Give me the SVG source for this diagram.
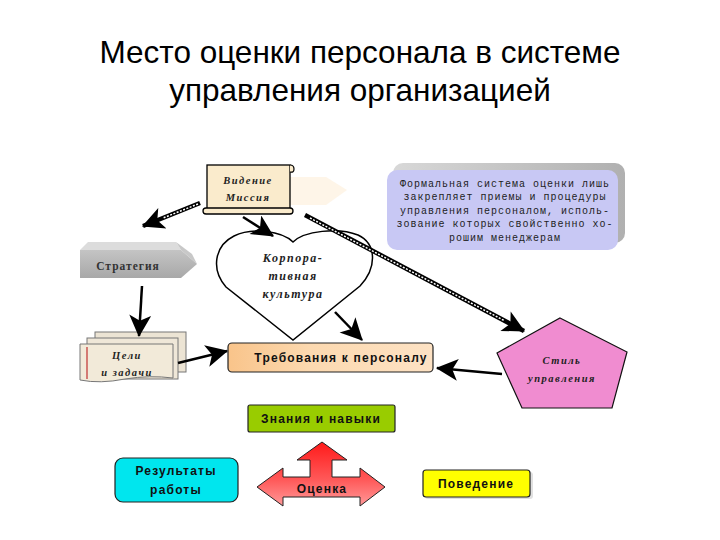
<svg xmlns="http://www.w3.org/2000/svg" width="720" height="540" viewBox="0 0 720 540">
<defs>
<style>
.title{font-family:"Liberation Sans",Arial,sans-serif;font-size:31.5px;fill:#000;text-anchor:middle}
.ital{font-family:"Liberation Serif","Times New Roman",serif;font-style:italic;font-weight:bold;font-size:10.5px;fill:#222;text-anchor:middle;letter-spacing:1.5px}
.big{font-size:12px}
.sans{font-family:"Liberation Sans",Arial,sans-serif;font-weight:bold;font-size:12px;fill:#111;text-anchor:middle;letter-spacing:1.2px}
.mono{font-family:"Liberation Mono","Courier New",monospace;font-size:10px;fill:#222;text-anchor:middle;letter-spacing:1px}
.edge{stroke:#000;stroke-width:2.5;fill:none;marker-end:url(#ah)}
.dbl{stroke:#000;stroke-width:4.5;fill:none;marker-end:url(#ah)}
.inner{stroke:#fff;stroke-width:1.5;fill:none;stroke-dasharray:2 1.5}
.box{stroke:#222;stroke-width:1.2}
</style>
<marker id="ah" viewBox="0 0 20 20" refX="19" refY="10" markerWidth="24" markerHeight="22" markerUnits="userSpaceOnUse" orient="auto">
<path d="M0,0 L20,10 L0,20 L5,10 z" fill="#000"/>
</marker>
<linearGradient id="gStrat" x1="0" y1="0" x2="0" y2="1">
<stop offset="0" stop-color="#c4c4c4"/><stop offset="1" stop-color="#a8a8a8"/>
</linearGradient>
<linearGradient id="gReq" x1="0" y1="0" x2="1" y2="0">
<stop offset="0" stop-color="#f9c48a"/><stop offset="0.4" stop-color="#fcd9b0"/><stop offset="1" stop-color="#fde2c4"/>
</linearGradient>
<linearGradient id="gRed" x1="0" y1="0" x2="0" y2="1">
<stop offset="0" stop-color="#ff1a1a"/><stop offset="0.6" stop-color="#ff5a5a"/><stop offset="1" stop-color="#ff9a9a"/>
</linearGradient>
<linearGradient id="gShadow" x1="0" y1="0" x2="1" y2="0">
<stop offset="0" stop-color="#d8d8d8"/><stop offset="1" stop-color="#b0b0b0"/>
</linearGradient>
</defs>
<rect width="720" height="540" fill="#fff"/>

<text class="title" x="360" y="63">Место оценки персонала в системе</text>
<text class="title" x="360" y="101">управления организацией</text>

<!-- faint shadow shape behind the scroll -->
<polygon points="288,177 326,177 347,190 326,205 288,205" fill="#fef5e8"/>

<g id="info">
<rect x="393" y="163" width="232" height="80" rx="10" fill="url(#gShadow)"/>
<rect x="387" y="170" width="231" height="80" rx="10" fill="#c8c8f4"/>
<text class="mono" x="505" y="187">Формальная система оценки лишь</text>
<text class="mono" x="505" y="200">закрепляет приемы и процедуры</text>
<text class="mono" x="505" y="214">управления персоналом, исполь-</text>
<text class="mono" x="505" y="227">зование которых свойственно хо-</text>
<text class="mono" x="505" y="241">рошим менеджерам</text>
</g>

<g id="vision">
<rect x="207" y="165" width="83" height="45" fill="#faebcc" stroke="#000" stroke-width="1.3"/>
<path d="M290,165 q4,0 4,4 q0,4 -4,3" fill="#faebcc" stroke="#000" stroke-width="1.2"/>
<rect x="203" y="208" width="90" height="6" rx="3" fill="#faebcc" stroke="#000" stroke-width="1.3"/>
<text class="ital" x="248" y="184">Видение</text>
<text class="ital" x="248" y="201">Миссия</text>
</g>

<g id="strategy">
<polygon points="80,250 88,242 176,242 181,250" fill="#dcdcdc"/>
<polygon points="181,250 176,242 192,254 197,264" fill="#c8c8c8"/>
<polygon points="80,250 181,250 197,264 181,278 80,278" fill="url(#gStrat)"/>
<text x="128" y="270" font-family="Liberation Serif,serif" font-weight="bold" font-size="11.5" fill="#333" text-anchor="middle" letter-spacing="1">Стратегия</text>
</g>

<g id="culture">
<path d="M293,242 C282,231 252,227 234,236 C214,246 211,270 226,287 L293,340 L360,286 C377,268 377,244 358,235 C338,227 304,231 293,242 Z" fill="#fff" stroke="#000" stroke-width="1.5"/>
<text class="ital big" x="293" y="262">Корпора-</text>
<text class="ital big" x="293" y="280">тивная</text>
<text class="ital big" x="293" y="298">культура</text>
</g>

<g id="goals">
<rect x="95" y="332" width="91" height="40" fill="#ece4d4" stroke="#777" stroke-width="1"/>
<rect x="87" y="338" width="91" height="41" fill="#efe7d8" stroke="#777" stroke-width="1"/>
<path d="M80,344 L173,344 L173,378 Q150,375 125,379 Q100,384 80,380 Z" fill="#f2ead9" stroke="#777" stroke-width="1"/>
<line x1="87" y1="347" x2="87" y2="379" stroke="#c03030" stroke-width="1.2"/>
<text class="ital" x="127" y="359">Цели</text>
<text class="ital" x="127" y="376">и задачи</text>
</g>

<g id="requirements">
<rect x="228" y="343" width="205" height="29" rx="4" fill="url(#gReq)" class="box"/>
<text class="sans" x="341" y="362">Требования к персоналу</text>
</g>

<g id="style">
<polygon points="560,318 627,352 612,408 522,408 497,353" fill="#f08cd0" stroke="#111" stroke-width="1.2"/>
<text class="ital" x="562" y="364">Стиль</text>
<text class="ital" x="562" y="382">управления</text>
</g>

<g id="knowledge">
<rect x="248" y="405" width="147" height="27" rx="2" fill="#99cc00" class="box"/>
<text class="sans" x="321" y="423">Знания и навыки</text>
</g>

<g id="results">
<rect x="115" y="458" width="123" height="44" rx="8" fill="#00e6ee" class="box"/>
<text class="sans" x="176" y="475">Результаты</text>
<text class="sans" x="176" y="494">работы</text>
</g>

<g id="assessment">
<path d="M322,442 L347,460 L332,460 L332,477 L360,477 L360,468 L385,487 L360,506 L360,497 L283,497 L283,506 L257,487 L283,468 L283,477 L310,477 L310,460 L297,460 Z" fill="url(#gRed)" stroke="#222" stroke-width="1"/>
<text class="sans" x="322" y="493" font-size="11" fill="#3a0a0a">Оценка</text>
</g>

<g id="behaviour">
<rect x="425" y="472" width="108" height="27" rx="3" fill="#e0e0e0"/>
<rect x="423" y="470" width="107" height="27" rx="3" fill="#ffff00" class="box"/>
<text class="sans" x="476" y="488">Поведение</text>
</g>

<g id="connectors">
<line class="dbl" x1="200" y1="203" x2="143" y2="226"/>
<line class="inner" x1="198" y1="204" x2="163" y2="218"/>
<line class="edge" x1="243" y1="217" x2="273" y2="236" stroke-width="3.5"/>
<line class="dbl" x1="305" y1="215" x2="524" y2="331"/>
<line class="inner" x1="310" y1="218" x2="505" y2="321"/>
<line class="edge" x1="142" y1="286" x2="139" y2="336"/>
<line class="edge" x1="178" y1="363" x2="227" y2="351" stroke-width="3.5"/>
<line class="edge" x1="335" y1="312" x2="362" y2="340" stroke-width="3.5"/>
<line class="edge" x1="502" y1="374" x2="437" y2="368" stroke-width="3.5"/>
</g>
</svg>
